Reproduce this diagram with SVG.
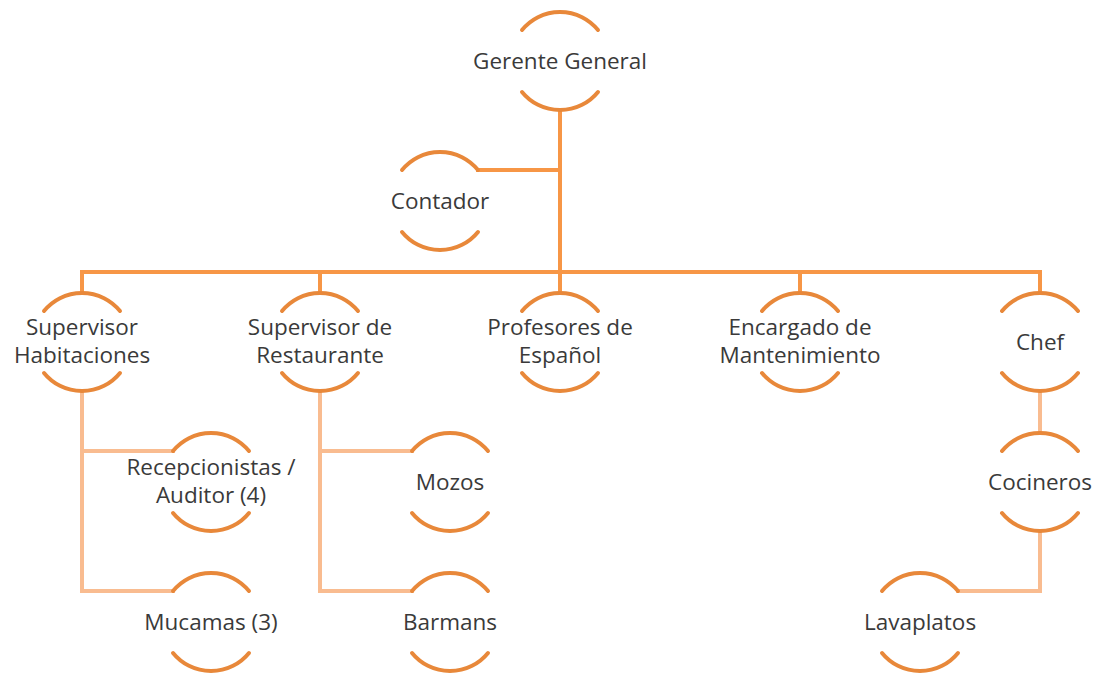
<svg xmlns="http://www.w3.org/2000/svg" xmlns:xlink="http://www.w3.org/1999/xlink" width="1096" height="675" viewBox="0 0 1096 675">
<style>
  .arc { fill: none; stroke: #E8883A; stroke-width: 4; stroke-linecap: round; }
  .main { fill: none; stroke: #F79646; stroke-width: 4; stroke-linecap: square; }
  .sub { fill: none; stroke: #F9BC90; stroke-width: 4; stroke-linecap: square; }
  text { font-family: "Open Sans", "Liberation Sans", sans-serif; font-size: 22.5px; fill: #3a3a3a; text-anchor: middle; }
</style>
<defs>
  <g id="ring">
    <path class="arc" d="M -38 -31 A 49 49 0 0 1 38 -31"/>
    <path class="arc" d="M -38 31 A 49 49 0 0 0 38 31"/>
  </g>
</defs>
<rect width="1096" height="675" fill="#ffffff"/>
<g id="connectors">
  <path class="main" d="M 560 110 V 272"/>
  <path class="main" d="M 478 170 H 560"/>
  <path class="main" d="M 82 272 H 1040"/>
  <path class="main" d="M 82 272 V 293 M 320 272 V 293 M 560 272 V 293 M 800 272 V 293 M 1040 272 V 293"/>
  <path class="sub" d="M 82 391 V 591 H 173 M 82 451 H 173"/>
  <path class="sub" d="M 320 391 V 591 H 412 M 320 451 H 412"/>
  <path class="sub" d="M 1040 391 V 433"/>
  <path class="sub" d="M 1040 531 V 591 H 958"/>
</g>
<g id="gerente-general"><use xlink:href="#ring" x="560" y="61"/><text x="560" y="69">Gerente General</text></g>
<g id="contador"><use xlink:href="#ring" x="440" y="201"/><text x="440" y="209">Contador</text></g>
<g id="supervisor-habitaciones"><use xlink:href="#ring" x="82" y="342"/><text x="82" y="335">Supervisor</text><text x="82" y="363">Habitaciones</text></g>
<g id="supervisor-restaurante"><use xlink:href="#ring" x="320" y="342"/><text x="320" y="335">Supervisor de</text><text x="320" y="363">Restaurante</text></g>
<g id="profesores-espanol"><use xlink:href="#ring" x="560" y="342"/><text x="560" y="335">Profesores de</text><text x="560" y="363">Español</text></g>
<g id="encargado-mantenimiento"><use xlink:href="#ring" x="800" y="342"/><text x="800" y="335">Encargado de</text><text x="800" y="363">Mantenimiento</text></g>
<g id="chef"><use xlink:href="#ring" x="1040" y="342"/><text x="1040" y="350">Chef</text></g>
<g id="recepcionistas"><use xlink:href="#ring" x="211" y="482"/><text x="211" y="475">Recepcionistas /</text><text x="211" y="503">Auditor (4)</text></g>
<g id="mucamas"><use xlink:href="#ring" x="211" y="622"/><text x="211" y="630">Mucamas (3)</text></g>
<g id="mozos"><use xlink:href="#ring" x="450" y="482"/><text x="450" y="490">Mozos</text></g>
<g id="barmans"><use xlink:href="#ring" x="450" y="622"/><text x="450" y="630">Barmans</text></g>
<g id="cocineros"><use xlink:href="#ring" x="1040" y="482"/><text x="1040" y="490">Cocineros</text></g>
<g id="lavaplatos"><use xlink:href="#ring" x="920" y="622"/><text x="920" y="630">Lavaplatos</text></g>
</svg>
